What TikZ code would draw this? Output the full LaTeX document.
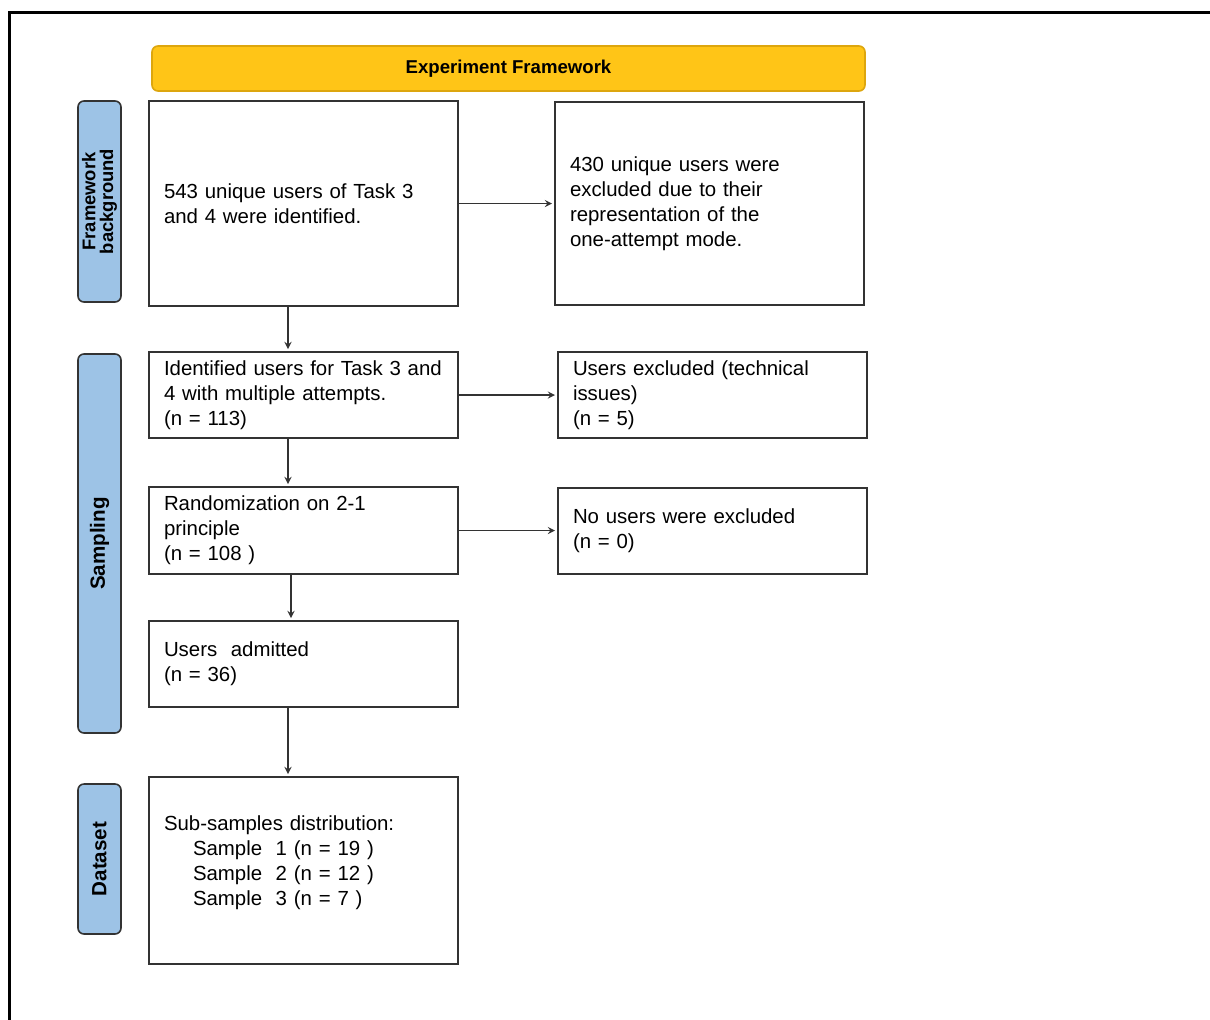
\documentclass[tikz,border=0pt]{standalone}
\usepackage{fontspec}
\setmainfont{Liberation Sans}
\usetikzlibrary{positioning}
\definecolor{headyellow}{HTML}{FFC517}
\definecolor{headedge}{HTML}{DDA60E}
\definecolor{sideblue}{HTML}{9DC3E6}
\definecolor{boxedge}{HTML}{333333}
\tikzstyle{state} = [rectangle,
                    text width=139.5pt,
                    inner xsep=7.5pt,
                    inner ysep=0pt,
                    align=left,
                    draw=boxedge,
                    fill=white,
                    line width=1pt,
                    font=\fontsize{10.2}{12.5}\selectfont]
\tikzstyle{phase} = [rectangle,
                    rounded corners=3pt,
                    rotate=90,
                    minimum height=21.5pt,
                    inner sep=0pt,
                    align=center,
                    draw=boxedge,
                    fill=sideblue,
                    line width=0.8pt,
                    font=\bfseries\fontsize{10.3}{12}\selectfont]
\tikzstyle{banner} = [rectangle,
                    rounded corners=3pt,
                    minimum width=356.5pt,
                    minimum height=22.5pt,
                    draw=headedge,
                    fill=headyellow,
                    line width=0.8pt,
                    font=\bfseries\fontsize{9.3}{11}\selectfont]
\tikzstyle{flow} = [x=0.5pt,
                   y=-0.5pt,
                   >=stealth,
                   shorten >=1pt]

\begin{document}
\begin{tikzpicture}[flow]
    \useasboundingbox (0,0) rectangle (1210,1019);
    \draw[line width=1.5pt] (9,1025) |- (1215,12);

    \node (head) at (508.5,68.5) [banner] {Experiment Framework};

    \node (fb) at (99.5,201.5) [phase, minimum width=100.5pt,
      font=\bfseries\fontsize{9.2}{8.8}\selectfont] {Framework\\background};
    \node (sa) at (99.5,543.5) [phase, minimum width=189.5pt] {Sampling};
    \node (ds) at (99.5,859) [phase, minimum width=75pt] {Dataset};

    \node (1) at (303.5,203.5) [state, minimum height=102.5pt]
      {543 unique users of Task 3\\and 4 were identified.};
    \node (2) [below=22pt of 1] [state, minimum height=43pt]
      {Identified users for Task 3 and\\4 with multiple attempts.\\(n = 113)};
    \node (3) [below=23.5pt of 2] [state, minimum height=43.5pt]
      {Randomization on 2-1\\principle\\(n = 108 )};
    \node (4) [below=22.5pt of 3] [state, minimum height=43pt]
      {Users\ \ admitted\\(n = 36)};
    \node (5) [below=34pt of 4] [state, minimum height=93.5pt, text depth=47pt]
      {Sub-samples distribution:\\
       \hspace*{14.5pt}Sample\ \ 1 (n = 19 )\\
       \hspace*{14.5pt}Sample\ \ 2 (n = 12 )\\
       \hspace*{14.5pt}Sample\ \ 3 (n = 7 )};

    \node (1x) [right=47.5pt of 1] [state, minimum height=101.5pt]
      {430 unique users were\\excluded due to their\\representation of the\\one-attempt mode.};
    \node (2x) [right=49pt of 2] [state, minimum height=43pt]
      {Users excluded (technical\\issues)\\(n = 5)};
    \node (3x) [right=49pt of 3] [state, minimum height=43pt]
      {No users were excluded\\(n = 0)};

    \path[->, boxedge, line width=0.6pt]
      (1) edge (1x)
      (2) edge (2x)
      (3.east) edge (3.east -| 3x.west)
      ([xshift=-7.75pt]1.south) edge ([xshift=-7.75pt]2.north)
      ([xshift=-7.75pt]2.south) edge ([xshift=-7.75pt]3.north)
      ([xshift=-6.25pt]3.south) edge ([xshift=-6.25pt]4.north)
      ([xshift=-7.75pt]4.south) edge ([xshift=-7.75pt]5.north);
\end{tikzpicture}
\end{document}
